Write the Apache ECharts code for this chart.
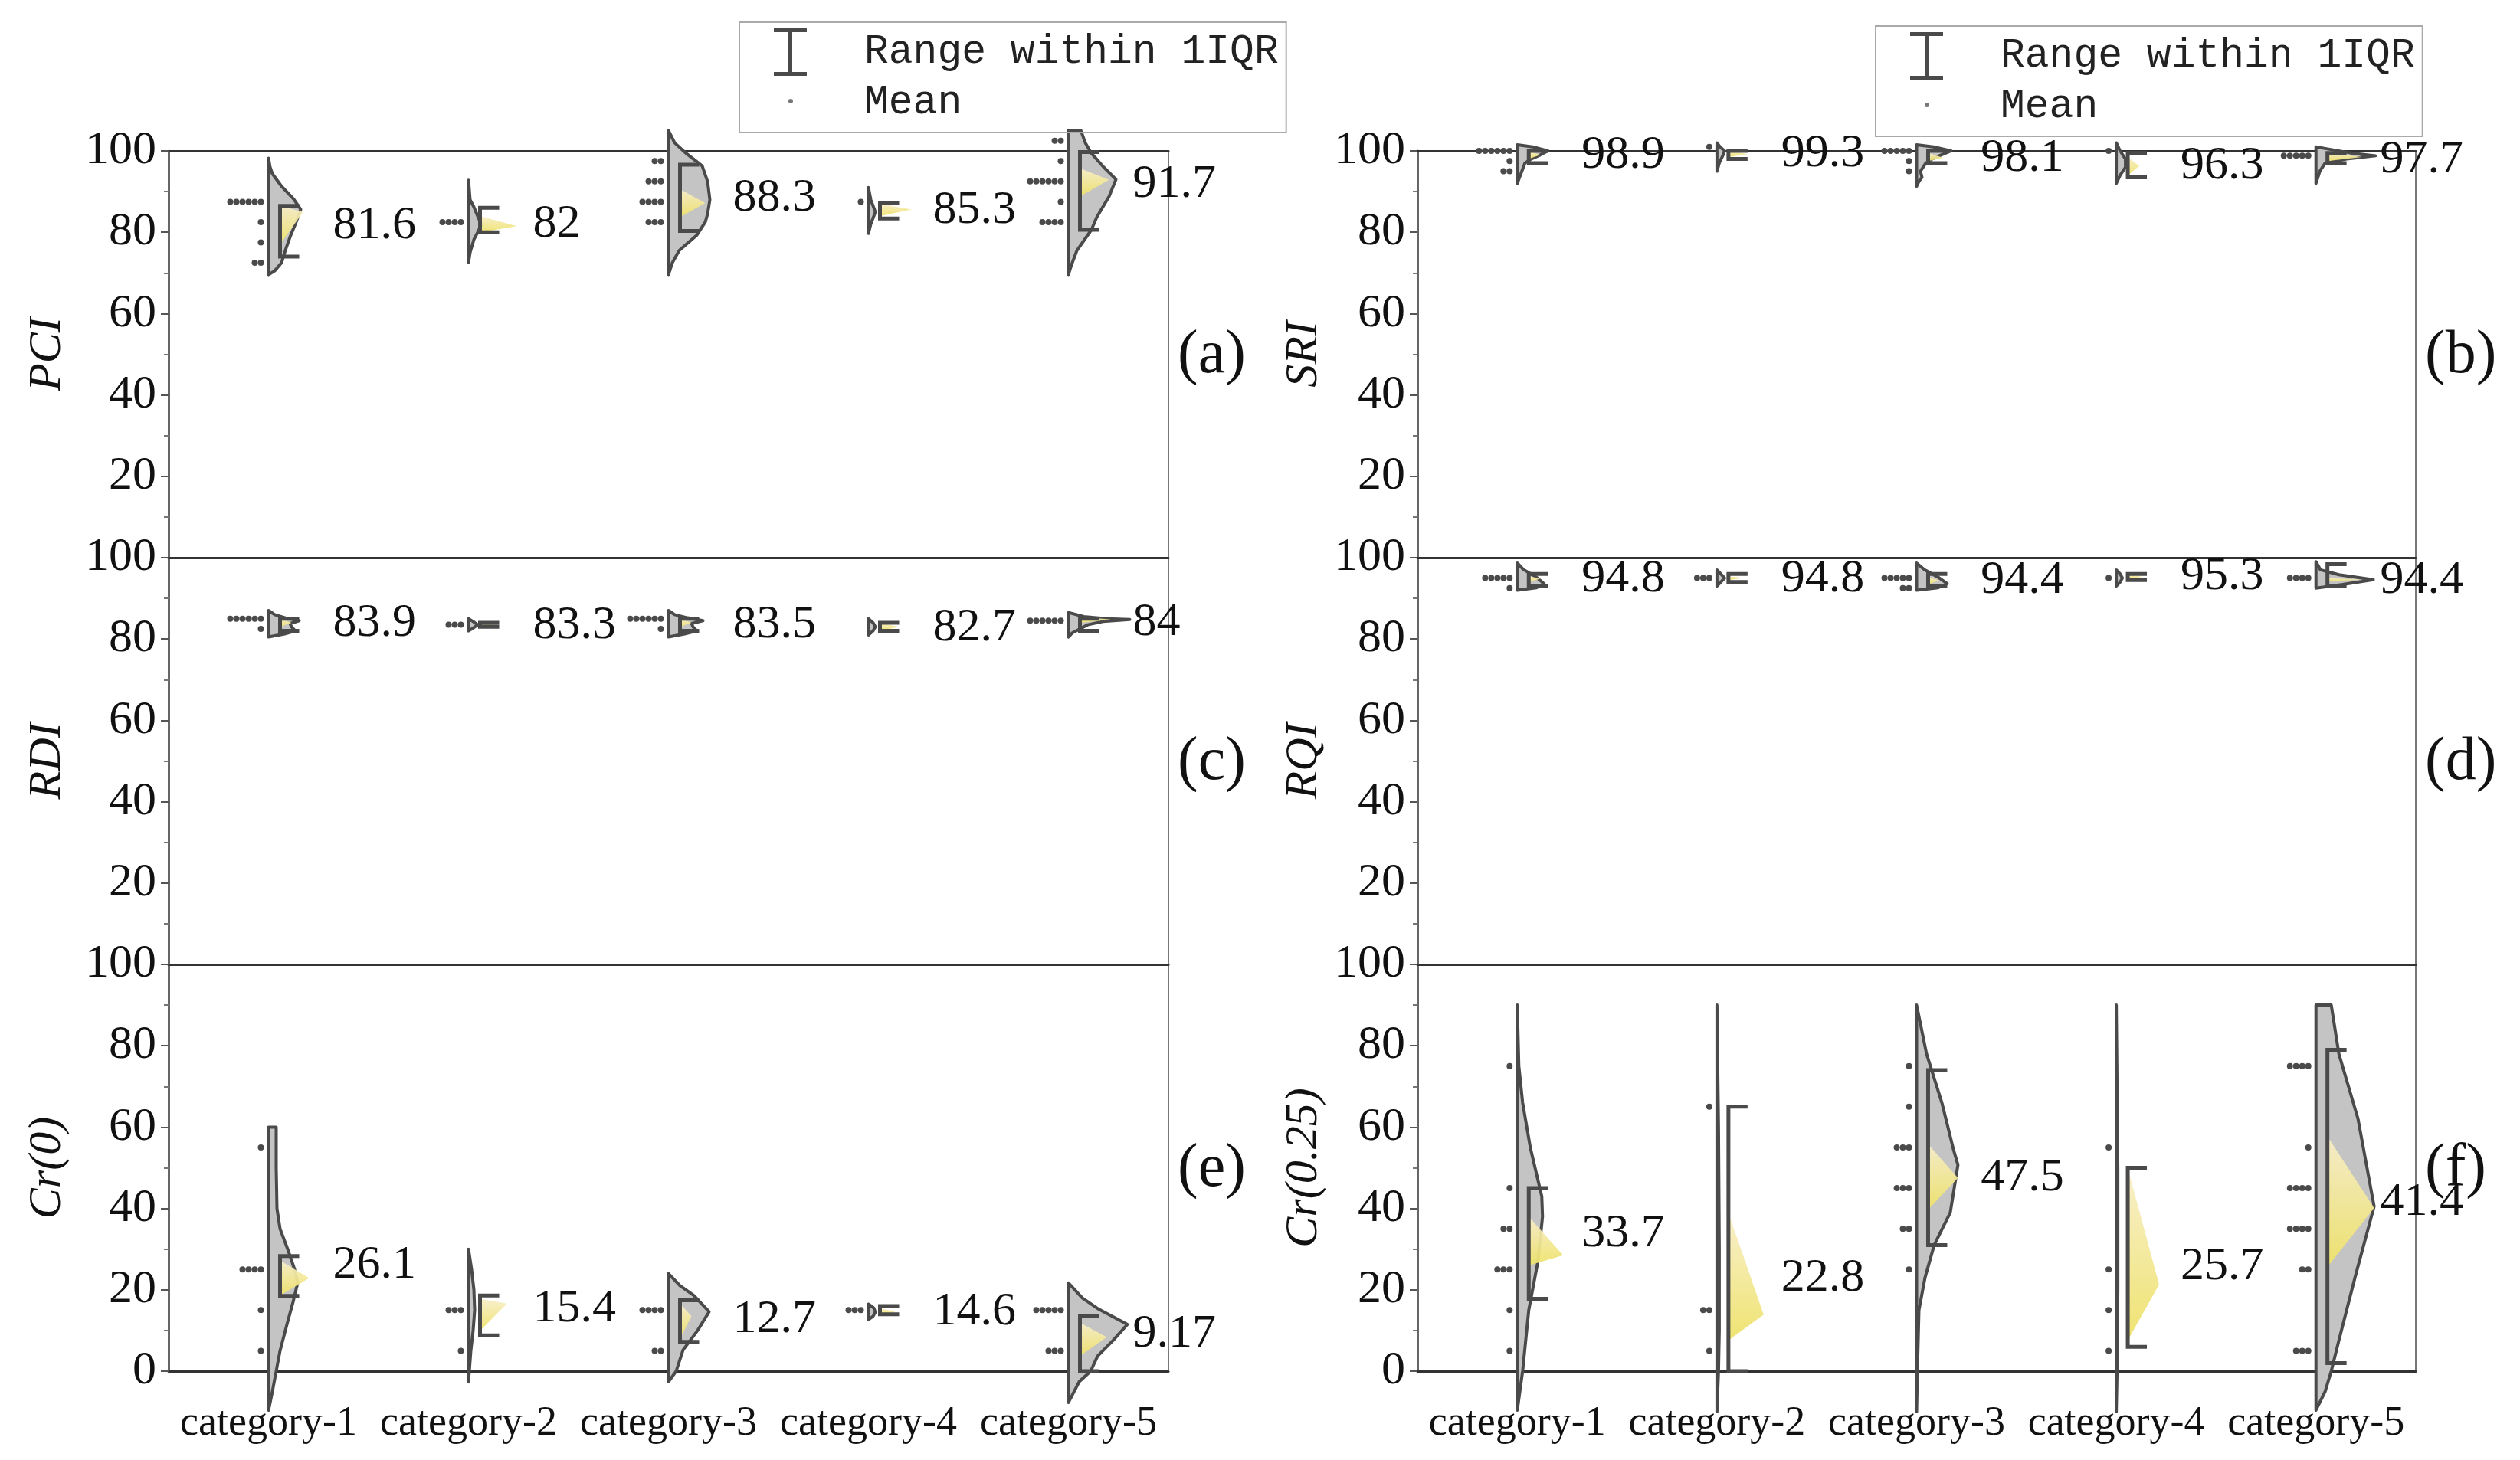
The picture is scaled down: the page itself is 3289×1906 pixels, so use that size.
<!DOCTYPE html>
<html>
<head>
<meta charset="utf-8">
<script src="https://cdn.jsdelivr.net/npm/echarts@6/dist/echarts.min.js"></script>
<style>
html,body{margin:0;padding:0;background:#fff;}
#chart{width:3289px;height:1906px;}
</style>
</head>
<body>
<div id="chart"></div>
<script>
// ---------------- DATA ----------------
const categories = ['category-1', 'category-2', 'category-3', 'category-4', 'category-5'];
const yTickValues = [0, 20, 40, 60, 80, 100];
const panelLetters = ['(a)', '(b)', '(c)', '(d)', '(e)', '(f)'];
const panelNames = ['PCI', 'SRI', 'RDI', 'RQI', 'Cr(0)', 'Cr(0.25)'];

// (a) PCI
const PCI_mean = [81.6, 82, 88.3, 85.3, 91.7];
const PCI_iqr = [[74, 86.5], [80, 86], [80.3, 96.6], [83.4, 87.2], [80.6, 99.7]];
const PCI_tri = [[77, 85, 86.5, 45], [80, 81.5, 84, 63], [83.7, 87.2, 90.6, 48], [84, 85.6, 87, 56], [88.8, 92.9, 95.7, 53]];
const PCI_dots = [[[87.5, 6], [82.5, 1], [77.5, 1], [72.5, 2]], [[82.5, 4]], [[97.5, 2], [92.5, 3], [87.5, 4], [82.5, 3]], [[87.5, 1]], [[102.5, 2], [97.5, 1], [92.5, 6], [87.5, 1], [82.5, 4]]];
const PCI_violin = [
  [[98.2, 0], [96, 2], [94.4, 5], [91.3, 17], [88.1, 33], [85.6, 42], [82, 35], [78.8, 28], [75.6, 22], [72.5, 17], [70.5, 8], [69.6, 0]],
  [[92.8, 0], [88, 2], [86.2, 7], [83.5, 13], [81.9, 17], [80, 12], [78.2, 7], [75, 2], [72.5, 0]],
  [[105, 0], [102, 8], [99.4, 23], [96.3, 44], [92.5, 51], [88, 54], [84.5, 51], [82.5, 48], [79.3, 37], [75.5, 14], [72.5, 5], [69.6, 0]],
  [[91, 0], [88, 3], [86, 7], [85, 9], [84, 7], [82, 3], [79.7, 0]],
  [[105.1, 0], [105.1, 16], [102, 22], [99.4, 30], [96, 46], [93, 62], [88.8, 53], [83.7, 37], [80.6, 30], [75.5, 11], [72, 4], [69.6, 0]]
];

// (b) SRI
const SRI_mean = [98.9, 99.3, 98.1, 96.3, 97.7];
const SRI_iqr = [[97, 100], [98, 100], [97, 100], [93.5, 99.5], [97, 99.5]];
const SRI_tri = [[98, 99, 100, 30], [98.5, 99.2, 100, 40], [97.5, 98.3, 99.5, 35], [94, 96.3, 98.5, 30], [97.5, 98.5, 99.5, 60]];
const SRI_dots = [[[100, 6], [97.5, 1], [95, 2]], [[101, 1]], [[100, 5], [97.5, 1], [95, 1]], [[100, 1]], [[98.8, 5]]];
const SRI_violin = [
  [[101.5, 0], [101, 20], [100, 40], [99, 30], [98, 18], [97, 10], [95, 6], [93, 2], [92, 0]],
  [[102, 0], [101, 4], [100, 10], [99, 8], [97, 3], [95, 0]],
  [[101.5, 0], [101, 22], [100, 45], [99, 32], [98, 20], [97, 12], [95, 5], [93.5, 7], [92.5, 3], [91.3, 0]],
  [[102, 0], [100, 5], [98, 12], [96, 12], [94, 5], [92, 0]],
  [[101, 0], [100.5, 15], [99.5, 45], [98.8, 78], [98, 40], [97, 12], [95, 5], [92, 0]]
];

// (c) RDI
const RDI_mean = [83.9, 83.3, 83.5, 82.7, 84];
const RDI_iqr = [[82, 85], [83, 84], [82, 85], [82, 84], [82, 85]];
const RDI_tri = [[83, 84, 85, 30], [83, 83.5, 84, 35], [83, 84, 85, 30], [82, 83, 84, 40], [84, 84.8, 85.5, 55]];
const RDI_dots = [[[85, 6], [82.5, 1]], [[83.5, 3]], [[85, 6], [82.5, 1]], [], [[84.5, 6]]];
const RDI_violin = [
  [[87, 0], [86, 8], [85.2, 22], [84.5, 40], [83.8, 28], [83, 30], [82, 35], [81.2, 20], [80.5, 0]],
  [[85, 0], [84.3, 6], [83.5, 12], [82.7, 6], [82, 0]],
  [[87, 0], [86, 8], [85.2, 25], [84.5, 45], [83.8, 30], [83, 32], [82, 37], [81.2, 20], [80.5, 0]],
  [[85, 0], [84, 6], [83, 9], [82, 6], [81, 0]],
  [[86.5, 0], [85.5, 20], [85, 50], [84.8, 80], [84.3, 45], [83.5, 25], [82.5, 15], [81.5, 5], [80.5, 0]]
];

// (d) RQI
const RQI_mean = [94.8, 94.8, 94.4, 95.3, 94.4];
const RQI_iqr = [[93, 96], [94, 96], [93, 96], [94.5, 96], [93, 98.4]];
const RQI_tri = [[94, 94.8, 95.5, 30], [94.5, 95, 95.5, 35], [93.5, 94.4, 95.2, 30], [94.8, 95.3, 95.8, 35], [94.2, 94.6, 95, 60]];
const RQI_dots = [[[95, 5], [92.5, 1]], [[95, 3]], [[95, 5], [92.5, 2]], [[95, 1]], [[95, 4]]];
const RQI_violin = [
  [[98.7, 0], [97.1, 8], [95.2, 25], [93.6, 35], [92.6, 25], [92, 0]],
  [[97, 0], [96, 5], [95, 10], [94, 5], [93, 0]],
  [[98.7, 0], [97.1, 10], [95.2, 28], [93.6, 40], [92.6, 28], [92, 0]],
  [[97, 0], [96, 5], [95, 8], [94, 5], [93, 0]],
  [[99, 0], [97, 6], [95.8, 30], [94.6, 75], [93.4, 35], [92.5, 0]]
];

// (e) Cr(0)
const CR0_mean = [26.1, 15.4, 12.7, 14.6, 9.17];
const CR0_iqr = [[18.5, 28.3], [8.8, 18.6], [7.2, 17.4], [14, 16], [0, 13.5]];
const CR0_tri = [[18.6, 22.9, 27.2, 53], [9.9, 16.6, 17.8, 50], [8, 13.5, 16.6, 30], [14, 14.6, 15.5, 35], [3.7, 8.4, 11.9, 50]];
const CR0_dots = [[[55, 1], [25, 4], [15, 1], [5, 1]], [[15, 3], [5, 1]], [[15, 4], [5, 2]], [[15, 3]], [[15, 5], [5, 3]]];
const CR0_violin = [
  [[60, 0], [60, 10], [50, 10], [40, 11], [35, 15], [30, 25], [25, 34], [21.7, 38], [17, 32], [11.5, 24], [5, 15], [0, 10], [-5, 5], [-9.6, 0]],
  [[30, 0], [25, 4], [20, 7], [15, 8], [10, 6], [5, 3], [0, 1], [-2.6, 0]],
  [[24, 0], [21, 15], [18.6, 33], [14.6, 53], [10, 38], [5.2, 19], [0, 10], [-2.6, 0]],
  [[16.5, 0], [15.5, 7], [14.5, 9], [13.5, 6], [12.7, 0]],
  [[21.7, 0], [18, 18], [15.4, 38], [11.5, 77], [7.5, 58], [3.7, 38], [0, 29], [-2.6, 14], [-7.7, 0]]
];

// (f) Cr(0.25)
const CR25_mean = [33.7, 22.8, 47.5, 25.7, 41.4];
const CR25_iqr = [[17.8, 45], [0, 65], [31, 74], [6, 50], [2, 79]];
const CR25_tri = [[26, 28.5, 38, 60], [7.6, 13.9, 38.9, 61], [39.7, 47.5, 55.8, 54], [7.6, 21.3, 49.9, 56], [25.6, 40.1, 57.7, 76]];
const CR25_dots = [[[75, 1], [45, 1], [35, 2], [25, 3], [15, 1], [5, 1]], [[65, 1], [15, 2], [5, 1]], [[75, 1], [65, 1], [55, 3], [45, 3], [35, 2], [25, 1]], [[55, 1], [25, 1], [15, 1], [5, 1]], [[75, 4], [55, 1], [45, 4], [35, 4], [25, 2], [5, 3]]];
const CR25_violin = [
  [[90, 0], [75, 2], [66, 7], [55, 17], [43, 32], [38, 33], [27, 27], [15, 15], [0, 7], [-9.6, 0]],
  [[90, 0], [60, 2], [30, 3], [10, 3], [0, 2], [-10, 0]],
  [[90, 0], [78, 13], [66, 33], [54.6, 48], [50.7, 54], [39, 44], [31, 23], [23, 11], [15, 3], [0, 1], [-10, 0]],
  [[90, 0], [50, 2], [20, 2], [0, 1], [-10, 0]],
  [[90, 0], [90, 20], [78, 30], [62, 55], [40.5, 76], [23, 51], [7.6, 30], [0, 20], [-5, 12], [-9.6, 0]]
];

// ---------------- LAYOUT ----------------
const colLeft = [220, 1850];
const colWidth = [1305, 1303];
const rowTop = [197, 728, 1259];
const rowH = 531;
const SERIF = 'Liberation Serif';
const MONO = 'Liberation Mono';
const DARK = '#4a4a4a';

const panels = [
  {mean: PCI_mean, iqr: PCI_iqr, tri: PCI_tri, dots: PCI_dots, violin: PCI_violin, col: 0, row: 0},
  {mean: SRI_mean, iqr: SRI_iqr, tri: SRI_tri, dots: SRI_dots, violin: SRI_violin, col: 1, row: 0},
  {mean: RDI_mean, iqr: RDI_iqr, tri: RDI_tri, dots: RDI_dots, violin: RDI_violin, col: 0, row: 1},
  {mean: RQI_mean, iqr: RQI_iqr, tri: RQI_tri, dots: RQI_dots, violin: RQI_violin, col: 1, row: 1},
  {mean: CR0_mean, iqr: CR0_iqr, tri: CR0_tri, dots: CR0_dots, violin: CR0_violin, col: 0, row: 2},
  {mean: CR25_mean, iqr: CR25_iqr, tri: CR25_tri, dots: CR25_dots, violin: CR25_violin, col: 1, row: 2}
];

const grids = [], xAxes = [], yAxes = [], series = [], graphics = [];

panels.forEach((p, g) => {
  const bottom = p.row === 2;
  grids.push({left: colLeft[p.col], width: colWidth[p.col], top: rowTop[p.row], height: rowH,
    show: true, borderColor: '#777', borderWidth: 2, containLabel: false});
  xAxes.push({gridIndex: g, type: 'category', data: categories, position: 'bottom',
    axisLine: {show: true, lineStyle: {color: '#333', width: 3}},
    axisTick: {show: false},
    axisLabel: {show: bottom, interval: 0, fontFamily: SERIF, fontSize: 54, color: '#111', margin: 42},
    splitLine: {show: false}});
  yAxes.push({gridIndex: g, type: 'value', min: yTickValues[0], max: yTickValues[yTickValues.length - 1], interval: 20,
    name: panelNames[g], nameLocation: 'middle', nameRotate: 90, nameGap: p.col === 0 ? 128 : 118,
    nameTextStyle: {fontFamily: SERIF, fontStyle: 'italic', fontSize: 60, color: '#111'},
    axisLine: {show: true, lineStyle: {color: '#666', width: 3}},
    axisTick: {show: true, inside: false, length: 10, lineStyle: {color: '#555', width: 2}},
    minorTick: {show: true, splitNumber: 2, length: 6, lineStyle: {color: '#777', width: 2}},
    axisLabel: {fontFamily: SERIF, fontSize: 62, color: '#111', margin: 16, showMinLabel: bottom},
    splitLine: {show: false}});

  const data = categories.map((c, i) => [i, p.mean[i]]);
  const common = {type: 'custom', xAxisIndex: g, yAxisIndex: g, data: data, encode: {x: 0, y: 1}, clip: false, silent: true};

  // half violin
  series.push(Object.assign({}, common, {z: 2, renderItem: function (params, api) {
    const i = api.value(0);
    const prof = p.violin[i];
    const cx = api.coord([i, 0])[0];
    const s = api.size([1, 0])[0] / 261;
    const pts = [[cx, api.coord([i, prof[0][0]])[1]]];
    prof.forEach(function (d) { pts.push([cx + d[1] * s, api.coord([i, d[0]])[1]]); });
    pts.push([cx, api.coord([i, prof[prof.length - 1][0]])[1]]);
    return {type: 'polygon', shape: {points: pts}, style: {fill: '#c4c4c4', stroke: DARK, lineWidth: 4, lineJoin: 'round'}};
  }}));

  // yellow mean wedge
  series.push(Object.assign({}, common, {name: 'Mean', z: 3, renderItem: function (params, api) {
    const i = api.value(0);
    const t = p.tri[i];
    const cx = api.coord([i, 0])[0];
    const s = api.size([1, 0])[0] / 261;
    return {type: 'polygon', shape: {points: [
      [cx + 15 * s, api.coord([i, t[2]])[1]],
      [cx + t[3] * s, api.coord([i, t[1]])[1]],
      [cx + 15 * s, api.coord([i, t[0]])[1]]]},
      style: {fill: new echarts.graphic.LinearGradient(0, 0, 0, 1, [
        {offset: 0, color: 'rgba(248,238,200,0.92)'},
        {offset: 1, color: 'rgba(238,226,105,0.95)'}])}};
  }}));

  // IQR bracket
  series.push(Object.assign({}, common, {name: 'Range within 1IQR', z: 4, renderItem: function (params, api) {
    const i = api.value(0);
    const q = p.iqr[i];
    const cx = api.coord([i, 0])[0];
    const s = api.size([1, 0])[0] / 261;
    const yl = api.coord([i, q[0]])[1], yh = api.coord([i, q[1]])[1];
    return {type: 'polyline', shape: {points: [[cx + 40 * s, yh], [cx + 15 * s, yh], [cx + 15 * s, yl], [cx + 40 * s, yl]]},
      style: {stroke: DARK, lineWidth: 5, fill: null}};
  }}));

  // dot strip
  series.push(Object.assign({}, common, {z: 5, renderItem: function (params, api) {
    const i = api.value(0);
    const cx = api.coord([i, 0])[0];
    const s = api.size([1, 0])[0] / 261;
    const children = [];
    p.dots[i].forEach(function (d) {
      const y = api.coord([i, d[0]])[1];
      for (let k = 0; k < d[1]; k++) {
        children.push({type: 'circle', shape: {cx: cx - (10 + 8 * k) * s, cy: y, r: 4}, style: {fill: DARK}});
      }
    });
    return {type: 'group', children: children};
  }}));

  // mean label
  series.push(Object.assign({}, common, {z: 6, renderItem: function (params, api) {
    const i = api.value(0);
    const cx = api.coord([i, 0])[0];
    const s = api.size([1, 0])[0] / 261;
    const y = api.coord([i, p.mean[i]])[1];
    return {type: 'text', x: cx + 84 * s, y: y,
      style: {text: String(p.mean[i]), fontFamily: SERIF, fontSize: 62, fill: '#111', textAlign: 'left', textVerticalAlign: 'middle', align: 'left', verticalAlign: 'middle'}};
  }}));

  // panel letter
  graphics.push({type: 'text', left: colLeft[p.col] + colWidth[p.col] + 12, top: rowTop[p.row] + rowH / 2 - 38,
    style: {text: panelLetters[g], fontFamily: SERIF, fontSize: 80, fill: '#111'}});
});

// top border lines of the first row
[0, 1].forEach(function (g) {
  xAxes.push({gridIndex: g, type: 'category', data: categories, position: 'top',
    axisLine: {show: true, lineStyle: {color: '#333', width: 3}},
    axisTick: {show: false}, axisLabel: {show: false}, splitLine: {show: false}});
});

const ibeam = 'path://M0,0 H43 V5 H24 V57 H43 V62 H0 V57 H19 V5 H0 Z';
const dotIcon = 'path://M0,0 M43,62 M19,29 A3,3 0 1,0 25,29 A3,3 0 1,0 19,29 Z';
function makeLegend(left, top) {
  return {orient: 'vertical', left: left, top: top, selectedMode: false,
    padding: [8, 10, 8, 45], itemWidth: 43, itemHeight: 62, itemGap: 4,
    borderColor: '#aaa', borderWidth: 2,
    textStyle: {fontFamily: MONO, fontSize: 53, color: '#222', padding: [0, 0, 0, 70]},
    data: [{name: 'Range within 1IQR', icon: ibeam, itemStyle: {color: DARK}},
           {name: 'Mean', icon: dotIcon, itemStyle: {color: '#777'}}]};
}

const chart = echarts.init(document.getElementById('chart'), null, {renderer: 'canvas'});
chart.setOption({
  animation: false,
  backgroundColor: '#fff',
  textStyle: {fontFamily: SERIF},
  grid: grids,
  xAxis: xAxes,
  yAxis: yAxes,
  legend: [makeLegend(965, 29), makeLegend(2448, 34)],
  graphic: graphics,
  series: series
});
</script>
</body>
</html>
